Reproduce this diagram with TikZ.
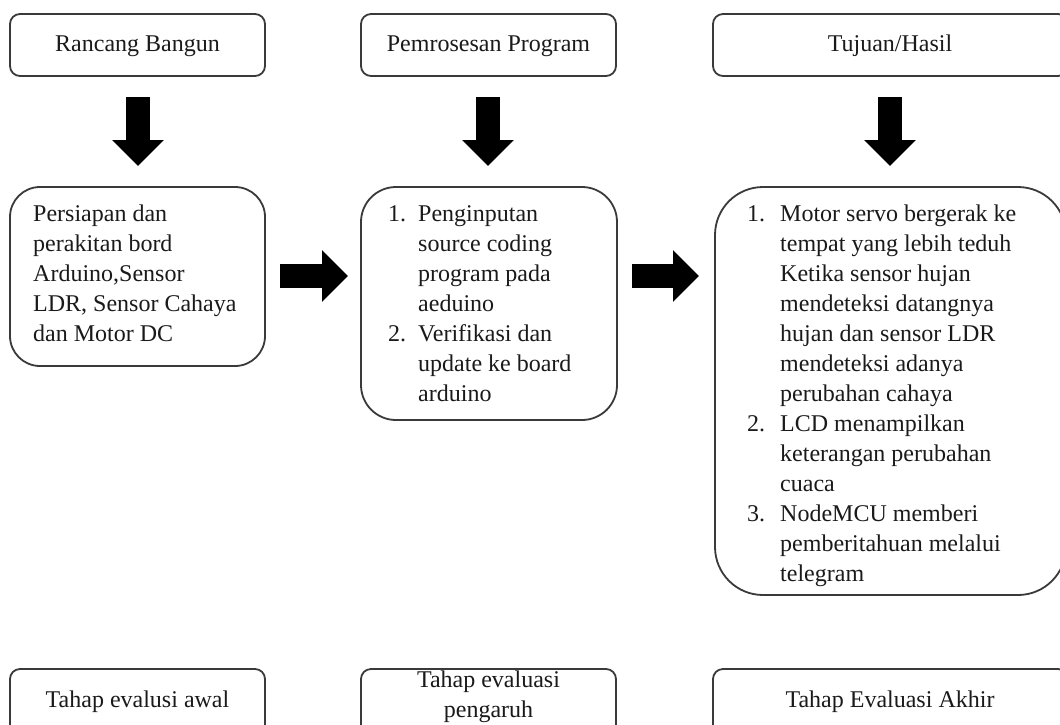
\documentclass[tikz,border=0pt]{standalone}
\usepackage{fontspec}
\setmainfont{Liberation Serif}
\usetikzlibrary{arrows.meta}
\definecolor{edge}{HTML}{3A3A3A}
\definecolor{ink}{HTML}{1A1A1A}
\tikzset{
  box/.style={draw=edge, line width=1.8pt, rounded corners=#1},
  box/.default=10pt,
  txt/.style={text=ink, inner sep=0pt, font=\fontsize{24}{30}\selectfont},
  bigarrow/.style={draw=black, line width=24pt, -{Triangle[width=50pt,length=26pt]}},
}
\begin{document}
\begin{tikzpicture}[x=1pt,y=-1pt]
\useasboundingbox (0,0) rectangle (1060,724);
\fill[white] (0,0) rectangle (1060,724);
\clip (0,0) rectangle (1060,724);

% top boxes
\draw[box] (10,14) rectangle (265,76);
\node[txt] (t1) at (137.5,46) {Rancang Bangun};
\draw[box] (361,14) rectangle (616,76);
\node[txt] (t2) at (488.5,46) {Pemrosesan Program};
\draw[box] (713,14) rectangle (1068,76);
\node[txt] (t3) at (890,46) {Tujuan/Hasil};

% down arrows
\coordinate (d1a) at (138,97);  \coordinate (d1b) at (138,166);
\coordinate (d2a) at (488,97);  \coordinate (d2b) at (488,166);
\coordinate (d3a) at (890,97);  \coordinate (d3b) at (890,166);
\draw[bigarrow] (d1a) -- (d1b);
\draw[bigarrow] (d2a) -- (d2b);
\draw[bigarrow] (d3a) -- (d3b);

% middle boxes
\draw[box=30pt] (10,187) rectangle (265,366);
\node[txt, anchor=north west] (m1) at (33,200) {\begin{tabular}[t]{@{}l@{}}
Persiapan dan\\
perakitan bord\\
Arduino,Sensor\\
LDR, Sensor Cahaya\\
dan Motor DC
\end{tabular}};

\draw[box=35pt] (361,187) rectangle (617,420);
\node[txt, anchor=north west] (m2) at (388,200) {\begin{tabular}[t]{@{}p{30pt}@{}l@{}}
1. & Penginputan\\
   & source coding\\
   & program pada\\
   & aeduino\\
2. & Verifikasi dan\\
   & update ke board\\
   & arduino
\end{tabular}};

\draw[box=48pt] (715,187) rectangle (1066,595);
\node[txt, anchor=north west] (m3) at (747,200) {\begin{tabular}[t]{@{}p{33pt}@{}l@{}}
1. & Motor servo bergerak ke\\
   & tempat yang lebih teduh\\
   & Ketika sensor hujan\\
   & mendeteksi datangnya\\
   & hujan dan sensor LDR\\
   & mendeteksi adanya\\
   & perubahan cahaya\\
2. & LCD menampilkan\\
   & keterangan perubahan\\
   & cuaca\\
3. & NodeMCU memberi\\
   & pemberitahuan melalui\\
   & telegram
\end{tabular}};

% right arrows
\coordinate (r1a) at (280,276); \coordinate (r1b) at (348,276);
\coordinate (r2a) at (632,276); \coordinate (r2b) at (699,276);
\draw[bigarrow] (r1a) -- (r1b);
\draw[bigarrow] (r2a) -- (r2b);

% bottom boxes
\draw[box] (10,669) rectangle (265,745);
\node[txt] (b1) at (137.5,702) {Tahap evalusi awal};
\draw[box] (361,669) rectangle (616,745);
\node[txt, align=center] (b2) at (488.5,697) {Tahap evaluasi\\pengaruh};
\draw[box] (713,669) rectangle (1068,745);
\node[txt] (b3) at (890,702) {Tahap Evaluasi Akhir};
\end{tikzpicture}
\end{document}
